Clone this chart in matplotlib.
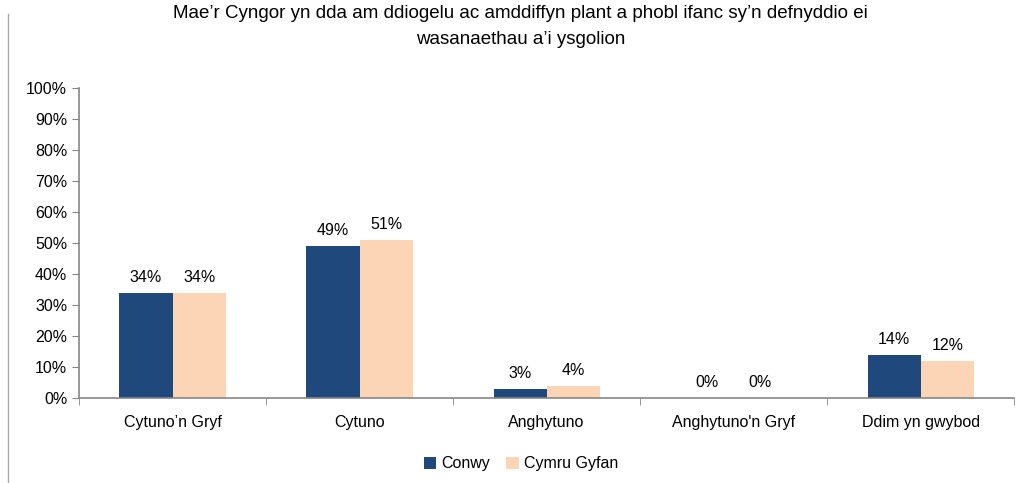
import matplotlib.pyplot as plt
import numpy as np

plt.rcParams['font.family'] = ['Liberation Sans Narrow', 'Liberation Sans', 'DejaVu Sans']

categories = ["Cytuno’n Gryf", "Cytuno", "Anghytuno", "Anghytuno'n Gryf", "Ddim yn gwybod"]
conwy = [34, 49, 3, 0, 14]
cymru = [34, 51, 4, 0, 12]
series_names = ["Conwy", "Cymru Gyfan"]
title = "Mae’r Cyngor yn dda am ddiogelu ac amddiffyn plant a phobl ifanc sy’n defnyddio ei\nwasanaethau a’i ysgolion"

fig = plt.figure(figsize=(10.21, 4.83), dpi=100)
ax = fig.add_axes([0.0774, 0.176, 0.916, 0.642])

x = np.arange(len(categories))
w = 0.284
b1 = ax.bar(x - w / 2, conwy, w, color='#1F497D', label=series_names[0])
b2 = ax.bar(x + w / 2, cymru, w, color='#FBD5B5', label=series_names[1])

for bars, vals in ((b1, conwy), (b2, cymru)):
    for r, v in zip(bars, vals):
        ax.text(r.get_x() + r.get_width() / 2, v + 2.5, f"{v}%",
                ha='center', va='bottom', fontsize=11.5)

ax.set_xlim(-0.5, len(categories) - 0.5)
ax.set_ylim(0, 100)
ax.set_yticks(range(0, 101, 10))
ax.set_yticklabels([f"{t}%" for t in range(0, 101, 10)], fontsize=11.5)
ax.set_xticks(x)
ax.set_xticklabels(categories, fontsize=11.5)
ax.tick_params(axis='x', length=0, pad=12)
ax.set_xticks(np.arange(-0.5, len(categories)), minor=True)
ax.tick_params(axis='x', which='minor', length=5, color='#868686')
ax.tick_params(axis='y', length=5, color='#868686', direction='out')

for s in ('top', 'right'):
    ax.spines[s].set_visible(False)
for s in ('left', 'bottom'):
    ax.spines[s].set_color('#868686')
    ax.spines[s].set_linewidth(1.2)

fig.text(0.51, 0.945, title, ha='center', va='center', fontsize=13.5, linespacing=1.7)

fig.legend(handles=[b1, b2], loc='center', bbox_to_anchor=(0.51, 0.04), ncol=2,
           frameon=False, fontsize=11.5, handlelength=0.8, handleheight=0.8,
           handletextpad=0.3, columnspacing=1.0)

fig.add_artist(plt.Line2D([0.008, 0.008], [0.0, 0.97], color='#aaaaaa', lw=1))

fig.savefig("out.png", dpi=100)
